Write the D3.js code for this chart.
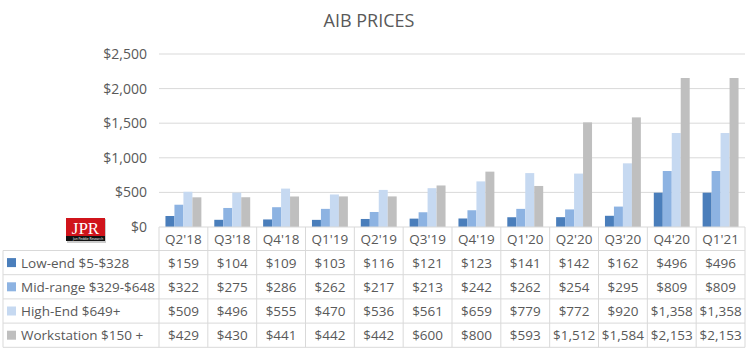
<!DOCTYPE html>
<html>
<head>
<meta charset="utf-8">
<script src="https://cdn.jsdelivr.net/npm/d3@7"></script>
<style>
  body { margin: 0; background: #fff; }
  svg { display: block; font-family: "Open Sans", sans-serif; }
</style>
</head>
<body>
<svg id="canvas"></svg>
<script>
let quarters = ["Q2'18", "Q3'18", "Q4'18", "Q1'19", "Q2'19", "Q3'19", "Q4'19", "Q1'20", "Q2'20", "Q3'20", "Q4'20", "Q1'21"];
let seriesNames = ["Low-end $5-$328", "Mid-range $329-$648", "High-End $649+", "Workstation $150 +"];
let lowEnd = [159, 104, 109, 103, 116, 121, 123, 141, 142, 162, 496, 496];
let midRange = [322, 275, 286, 262, 217, 213, 242, 262, 254, 295, 809, 809];
let highEnd = [509, 496, 555, 470, 536, 561, 659, 779, 772, 920, 1358, 1358];
let workstation = [429, 430, 441, 442, 442, 600, 800, 593, 1512, 1584, 2153, 2153];
let yTicks = [0, 500, 1000, 1500, 2000, 2500];

let series = [lowEnd, midRange, highEnd, workstation];
let color = ["#4a7ebb", "#8db3e2", "#c6d9f1", "#bfbfbf"];

let width = 750;
let height = 353;
let plotLeft = 159;
let plotRight = 745;
let plotTop = 54;
let plotBottom = 227;
let rowTop = 250.5;
let rowH = 24.2;
let tableLeft = 3;
let textColor = "#595959";
let lineColor = "#d9d9d9";

let canvas = d3.select("#canvas")
  .attr("width", width)
  .attr("height", height);

let xScale = d3.scaleBand()
  .domain(quarters)
  .range([plotLeft, plotRight]);

let xInner = d3.scaleBand()
  .domain(d3.range(series.length))
  .range([0, xScale.bandwidth()])
  .paddingOuter(0.72)
  .paddingInner(0);

let yScale = d3.scaleLinear()
  .domain([0, 2500])
  .range([plotBottom, plotTop]);

// title
canvas.append("text")
  .attr("x", 369)
  .attr("y", 27)
  .attr("text-anchor", "middle")
  .attr("fill", textColor)
  .style("font-size", "18px")
  .text("AIB PRICES");

// gridlines
canvas.append("g")
  .selectAll("line")
  .data(yTicks.slice(1))
  .enter()
  .append("line")
  .attr("x1", plotLeft)
  .attr("x2", plotRight)
  .attr("y1", d => yScale(d))
  .attr("y2", d => yScale(d))
  .attr("stroke", lineColor)
  .attr("stroke-width", 1);

// y axis
let yAxis = d3.axisLeft(yScale)
  .tickValues(yTicks)
  .tickSize(0)
  .tickPadding(12)
  .tickFormat(d => "$" + d3.format(",")(d));

let yg = canvas.append("g")
  .attr("transform", "translate(" + plotLeft + ",0)")
  .call(yAxis);
yg.select(".domain").remove();
yg.selectAll("text")
  .attr("fill", textColor)
  .style("font-size", "14px")
  .style("font-family", "'Open Sans', sans-serif");

// bars
series.forEach((vals, si) => {
  canvas.append("g")
    .selectAll("rect")
    .data(vals)
    .enter()
    .append("rect")
    .attr("x", (d, i) => xScale(quarters[i]) + xInner(si))
    .attr("width", xInner.bandwidth())
    .attr("y", d => yScale(d))
    .attr("height", d => plotBottom - yScale(d))
    .attr("fill", color[si]);
});

// data table
let table = canvas.append("g");
let tableBottom = rowTop + rowH * series.length;

// horizontal lines
table.append("line")
  .attr("x1", plotLeft).attr("x2", plotRight)
  .attr("y1", plotBottom).attr("y2", plotBottom)
  .attr("stroke", lineColor);
d3.range(series.length + 1).forEach(r => {
  table.append("line")
    .attr("x1", tableLeft).attr("x2", plotRight)
    .attr("y1", rowTop + r * rowH).attr("y2", rowTop + r * rowH)
    .attr("stroke", lineColor);
});

// vertical lines
quarters.forEach(q => {
  table.append("line")
    .attr("x1", xScale(q)).attr("x2", xScale(q))
    .attr("y1", plotBottom).attr("y2", tableBottom)
    .attr("stroke", lineColor);
});
table.append("line")
  .attr("x1", plotRight).attr("x2", plotRight)
  .attr("y1", plotBottom).attr("y2", tableBottom)
  .attr("stroke", lineColor);
table.append("line")
  .attr("x1", tableLeft).attr("x2", tableLeft)
  .attr("y1", rowTop).attr("y2", tableBottom)
  .attr("stroke", lineColor);

// header labels
table.selectAll(".qlabel")
  .data(quarters)
  .enter()
  .append("text")
  .attr("class", "qlabel")
  .attr("x", d => xScale(d) + xScale.bandwidth() / 2)
  .attr("y", (plotBottom + rowTop) / 2 + 5)
  .attr("text-anchor", "middle")
  .attr("fill", textColor)
  .style("font-size", "13.5px")
  .text(d => d);

// rows
series.forEach((vals, si) => {
  let cy = rowTop + rowH * si + rowH / 2;
  table.append("rect")
    .attr("x", 7).attr("y", cy - 4.5)
    .attr("width", 9).attr("height", 9)
    .attr("fill", color[si]);
  table.append("text")
    .attr("x", 21).attr("y", cy + 5)
    .attr("fill", textColor)
    .style("font-size", "13.5px")
    .text(seriesNames[si]);
  table.append("g")
    .selectAll("text")
    .data(vals)
    .enter()
    .append("text")
    .attr("x", (d, i) => xScale(quarters[i]) + xScale.bandwidth() / 2)
    .attr("y", cy + 5)
    .attr("text-anchor", "middle")
    .attr("fill", textColor)
    .style("font-size", "13.5px")
    .text(d => "$" + d3.format(",")(d));
});

// JPR logo
let logo = canvas.append("g").attr("transform", "translate(66,218)");
logo.append("rect")
  .attr("x", 1).attr("y", 1).attr("width", 39).attr("height", 24)
  .attr("fill", "#999").attr("opacity", 0.5);
logo.append("rect")
  .attr("width", 39).attr("height", 18)
  .attr("fill", "#d0141b");
logo.append("rect")
  .attr("y", 18).attr("width", 39).attr("height", 5)
  .attr("fill", "#111");
logo.append("text")
  .attr("x", 19.5).attr("y", 15.5)
  .attr("text-anchor", "middle")
  .attr("fill", "#fff")
  .style("font-family", "'Liberation Serif', serif")
  .style("font-size", "17px")
  .text("JPR");
logo.append("text")
  .attr("x", 22).attr("y", 22.3)
  .attr("text-anchor", "middle")
  .attr("fill", "#fff")
  .style("font-size", "3.2px")
  .text("Jon Peddie Research");
</script>
</body>
</html>
